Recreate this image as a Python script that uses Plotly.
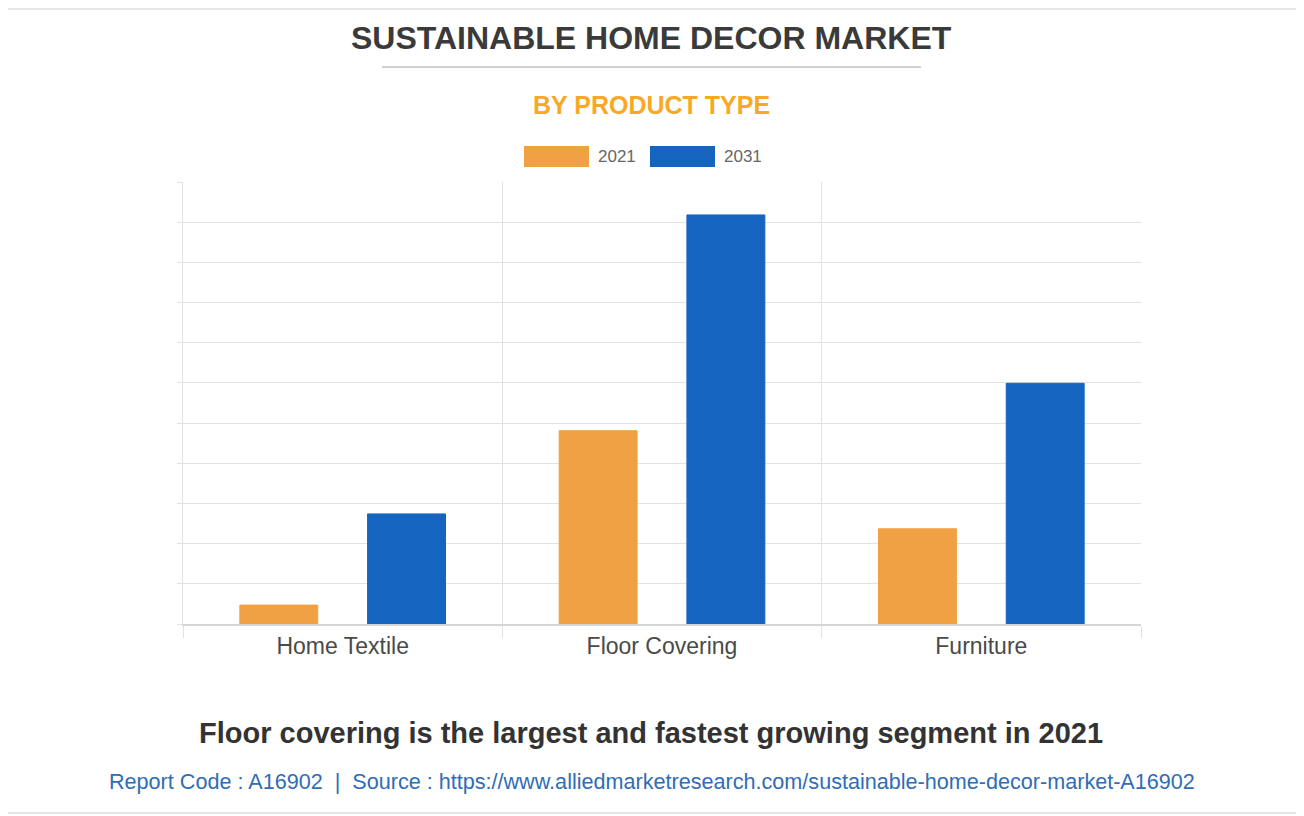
import plotly.graph_objects as go

# data (units = gridline steps)
categories = ["Home Textile", "Floor Covering", "Furniture"]
years = ["2021", "2031"]
values_2021 = [0.47, 4.81, 2.37]
values_2031 = [2.74, 10.18, 5.99]
colors = ["#F0A143", "#1565C0"]

W, H = 1296, 808          # page has an 8px body margin
OFF = 8
L, T = 183 - OFF, 182 - OFF
R, B = W - (1141 - OFF), H - (624 - OFF)
pw, ph = W - L - R, H - T - B


def px(x):
    # screen x (reference picture) -> paper
    return (x - OFF - L) / pw


def py(y):
    return (H - B - (y - OFF)) / ph


FONT = "Liberation Sans, Arial, sans-serif"

fig = go.Figure()
for yr, vals, col in zip(years, [values_2021, values_2031], colors):
    fig.add_trace(go.Bar(
        x=categories, y=vals, name=yr,
        marker=dict(color=col, line=dict(color=col, width=1)),
        showlegend=False,
    ))

fig.update_layout(
    width=W, height=H,
    margin=dict(l=L, r=R, t=T, b=B),
    paper_bgcolor="white", plot_bgcolor="white",
    barmode="group", bargap=0.2, bargroupgap=0.39,
    font=dict(family=FONT, color="#444"),
)
fig.update_xaxes(
    type="category", range=[-0.5, 2.5],
    tickson="boundaries", ticks="outside", ticklen=12, tickcolor="#e2e2e2",
    showgrid=True, gridcolor="#e2e2e2", gridwidth=1,
    showline=True, linecolor="#d6d6d6", linewidth=2,
    tickfont=dict(size=23, color="#4a4a4a", family=FONT),
)
fig.update_yaxes(
    range=[0, 11], dtick=1, showticklabels=False,
    ticks="outside", ticklen=5, tickcolor="#e2e2e2",
    showgrid=True, gridcolor="#e2e2e2", gridwidth=1,
    showline=True, linecolor="#e2e2e2", linewidth=1,
    zeroline=False,
)

ann = [
    dict(text="<b>SUSTAINABLE HOME DECOR MARKET</b>", x=px(651.5), y=py(38),
         font=dict(size=32, color="#3a3a3a")),
    dict(text="<b>BY PRODUCT TYPE</b>", x=px(651.5), y=py(105),
         font=dict(size=25, color="#F9A825")),
    dict(text="<b>Floor covering is the largest and fastest growing segment in 2021</b>",
         x=px(651), y=py(733), font=dict(size=29, color="#333333")),
    dict(text="Report Code : A16902  |  Source : https://www.alliedmarketresearch.com/sustainable-home-decor-market-A16902",
         x=px(652), y=py(781), font=dict(size=21.6, color="#2F6DB5")),
]
# custom legend with wide swatches
legend_x = [(524, 589, 596), (650, 715, 722)]
shapes = []
for (x0, x1, tx), yr, col in zip(legend_x, years, colors):
    shapes.append(dict(type="rect", xref="paper", yref="paper",
                       x0=px(x0), x1=px(x1), y0=py(167), y1=py(146),
                       fillcolor=col, line=dict(width=0)))
    ann.append(dict(text=yr, x=px(tx), y=py(156), xanchor="left",
                    font=dict(size=17, color="#666666")))

for a in ann:
    a.update(xref="paper", yref="paper", showarrow=False,
             xanchor=a.get("xanchor", "center"), yanchor="middle")
    a["font"]["family"] = FONT

# title rule and page borders
shapes.append(dict(type="line", xref="paper", yref="paper",
                   x0=px(382), x1=px(921), y0=py(67), y1=py(67),
                   line=dict(color="#d0d0d0", width=2)))
for yb in (9, 813):
    shapes.append(dict(type="line", xref="paper", yref="paper",
                       x0=px(OFF), x1=px(W + OFF), y0=py(yb), y1=py(yb),
                       line=dict(color="#e6e6e6", width=2)))

fig.update_layout(annotations=ann, shapes=shapes)

fig.write_html("out.html")
